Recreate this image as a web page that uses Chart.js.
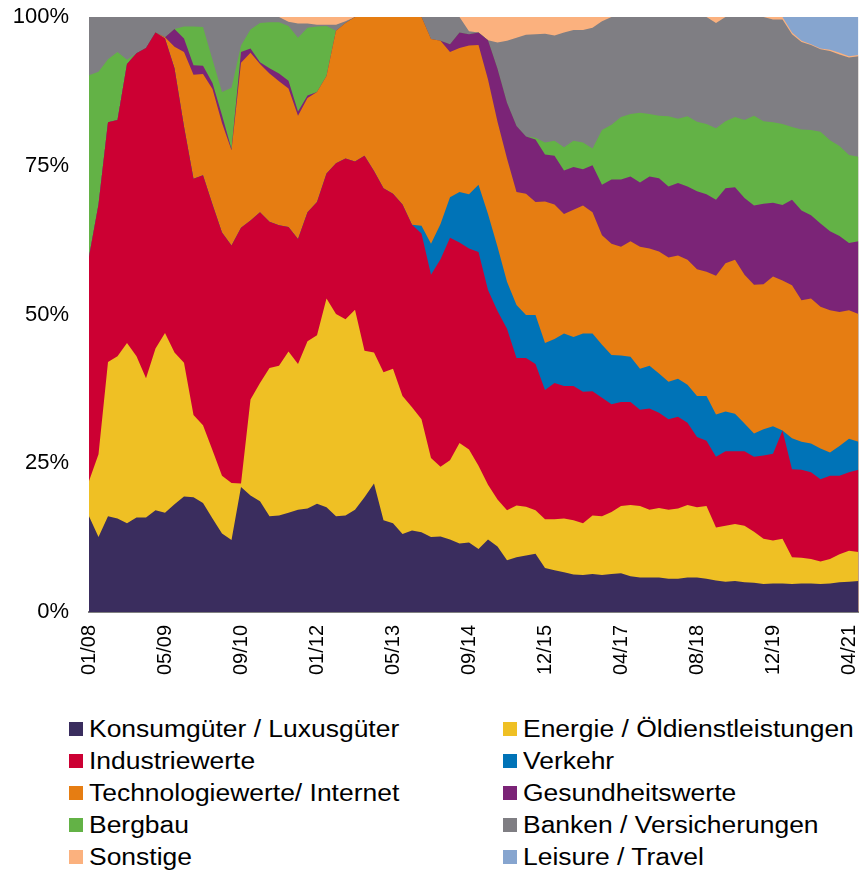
<!DOCTYPE html>
<html>
<head>
<meta charset="utf-8">
<script src="https://cdn.jsdelivr.net/npm/chart.js@4/dist/chart.umd.min.js"></script>
<style>
  body { margin: 0; background: #fff; width: 859px; height: 871px; overflow: hidden; position: relative; }
  #wrap { position: absolute; left: 0; top: 0; width: 859px; height: 690px; }
  .leg { position: absolute; height: 32px; line-height: 32px; font-family: "Liberation Sans", Arial, sans-serif; font-size: 23px; color: #000; white-space: nowrap; }
  .leg i { position: absolute; left: 0; top: 9px; width: 14px; height: 14px; }
  .leg span { position: absolute; left: 20px; top: 0; transform: scaleX(1.15); transform-origin: 0 0; }
</style>
</head>
<body>
<div id="wrap"><canvas id="chart"></canvas></div>
<div id="legend"></div>
<script>
  // axis labels, one every 8th point (points are two months apart)
  const tickLabels = ['01/08', '05/09', '09/10', '01/12', '05/13', '09/14', '12/15', '04/17', '08/18', '12/19', '04/21'];

  const seriesNames = [
    'Konsumgüter / Luxusgüter', 'Energie / Öldienstleistungen', 'Industriewerte', 'Verkehr',
    'Technologiewerte/ Internet', 'Gesundheitswerte', 'Bergbau', 'Banken / Versicherungen',
    'Sonstige', 'Leisure / Travel'
  ];
  const seriesColors = ['#3a2d5e', '#efc024', '#cc0033', '#0073b7', '#e67d12', '#7b2477', '#63b246', '#7f7e83', '#fbb17e', '#86a5cf'];

  // shares in %
  const konsum = [16.1, 12.6, 16.1, 15.7, 14.9, 15.9, 15.9, 17.1, 16.7, 18.1,
    19.4, 19.3, 18.3, 15.7, 13.2, 12.1, 21.0, 19.6, 18.6, 16.1,
    16.2, 16.7, 17.2, 17.4, 18.2, 17.6, 16.1, 16.2, 17.2, 19.3,
    21.6, 15.4, 14.9, 13.1, 13.7, 13.4, 12.6, 12.7, 12.2, 11.5,
    11.7, 10.6, 12.2, 11.0, 8.7, 9.2, 9.5, 9.8, 7.4, 7.0,
    6.7, 6.3, 6.2, 6.4, 6.2, 6.4, 6.5, 6.0, 5.8, 5.8,
    5.8, 5.6, 5.6, 5.8, 5.8, 5.6, 5.3, 5.1, 5.2, 5.0,
    4.9, 4.7, 4.8, 4.8, 4.7, 4.8, 4.8, 4.7, 4.8, 5.0,
    5.1, 5.2];
  const energie = [5.9, 13.9, 25.9, 27.3, 30.3, 27.1, 23.4, 27.2, 30.2, 25.5,
    22.5, 13.8, 13.1, 11.5, 9.7, 9.6, 0.6, 16.1, 19.9, 24.9,
    25.2, 27.1, 24.5, 28.1, 28.3, 35.1, 34.0, 33.0, 33.6, 24.6,
    22.0, 24.9, 26.0, 23.2, 20.7, 19.0, 13.3, 11.7, 13.3, 16.9,
    15.6, 14.0, 9.2, 7.9, 8.4, 8.7, 8.2, 7.3, 8.2, 8.6,
    9.0, 9.1, 8.7, 9.8, 9.9, 10.4, 11.3, 12.0, 12.0, 11.4,
    11.7, 11.6, 11.8, 12.2, 11.8, 12.2, 8.9, 9.4, 9.6, 9.5,
    8.6, 7.6, 7.2, 7.5, 4.5, 4.3, 4.1, 3.8, 4.1, 4.7,
    5.2, 4.9];
  const industrie = [37.7, 42.0, 40.3, 39.7, 46.9, 50.9, 55.5, 53.1, 49.5, 47.8,
    39.7, 39.7, 42.0, 41.3, 40.9, 39.9, 43.0, 30.1, 28.7, 24.6,
    23.6, 20.9, 21.0, 21.7, 22.4, 21.0, 25.3, 27.0, 24.9, 32.8,
    30.5, 30.9, 29.4, 32.2, 30.7, 31.2, 30.8, 34.9, 37.4, 33.7,
    33.8, 35.9, 32.7, 31.7, 30.5, 24.8, 25.0, 24.6, 21.7, 22.9,
    22.3, 22.6, 22.1, 20.9, 19.9, 18.1, 17.5, 17.3, 16.2, 17.0,
    16.0, 15.2, 15.4, 13.8, 11.8, 11.0, 11.9, 12.5, 12.2, 12.5,
    12.6, 14.0, 14.6, 18.2, 14.8, 14.8, 14.6, 13.8, 14.0, 13.2,
    13.2, 13.8];
  const verkehr = [0, 0, 0, 0, 0, 0, 0, 0, 0, 0,
    0, 0, 0, 0, 0, 0, 0, 0, 0, 0,
    0, 0, 0, 0, 0, 0, 0, 0, 0, 0,
    0, 0, 0, 0, 0, 1.3, 5.2, 5.9, 6.8, 8.5,
    9.1, 11.3, 12.8, 10.8, 7.9, 8.9, 7.2, 8.2, 7.9, 7.4,
    8.8, 8.2, 9.8, 9.7, 8.9, 8.3, 7.8, 7.6, 6.9, 7.2,
    6.6, 6.3, 6.4, 6.4, 6.9, 7.5, 7.1, 6.7, 6.3, 4.7,
    3.9, 4.4, 4.6, 0, 5.2, 4.7, 4.8, 5.2, 3.9, 5.0,
    5.6, 4.7];
  const technologie = [0, 0, 0, 0, 0, 0, 0, 0, 0.2, 3.6,
    12.5, 17.5, 17.0, 19.4, 18.4, 16.0, 27.7, 28.2, 24.9, 24.9,
    24.2, 23.3, 20.7, 19.2, 18.5, 16.4, 22.3, 22.8, 24.3, 23.3,
    25.9, 28.8, 29.7, 31.5, 34.9, 35.1, 34.4, 30.8, 24.4, 24.2,
    25.0, 23.5, 22.6, 21.0, 20.7, 19.0, 20.4, 19.0, 23.8, 22.6,
    20.1, 21.4, 21.5, 20.4, 18.4, 18.7, 18.3, 19.4, 20.5, 19.7,
    20.5, 20.9, 20.7, 21.0, 21.3, 20.9, 23.3, 24.9, 25.9, 25.0,
    25.0, 24.4, 25.2, 25.2, 25.7, 23.8, 24.4, 23.8, 23.9, 22.5,
    21.6, 21.5];
  const gesundheit = [0, 0, 0, 0, 0, 0, 0, 0, 0, 3.0,
    2.3, 1.6, 1.4, 1.0, 1.3, 0.2, 1.8, 0.7, 0.3, 0.9,
    1.3, 1.3, 0.7, 0.4, 0, 0, 0, 0, 0, 0,
    0, 0, 0, 0, 0, 0, 0, 0, 1.3, 2.6,
    1.9, 2.1, 6.6, 8.9, 9.4, 11.1, 9.6, 10.5, 7.9, 8.2,
    7.3, 7.2, 6.1, 7.9, 8.5, 10.8, 11.3, 10.9, 10.8, 12.1,
    12.3, 11.9, 12.2, 12.3, 13.1, 13.0, 12.8, 12.6, 12.2, 12.9,
    13.3, 13.5, 12.4, 12.7, 14.4, 15.1, 14.0, 14.0, 13.3, 12.8,
    11.3, 12.2];
  const bergbau = [30.5, 22.3, 10.6, 11.4, 0.7, 0, 0, 0, 0, 0,
    2.0, 6.5, 6.5, 3.9, 3.9, 10.3, 1.1, 3.2, 6.6, 7.7,
    8.6, 9.2, 12.4, 11.4, 11.0, 8.4, 0, 0, 0, 0,
    0, 0, 0, 0, 0, 0, 0, 0, 0, 0,
    0, 0, 0, 0, 0, 0, 0, 0.3, 2.0, 2.5,
    3.9, 4.4, 4.5, 2.8, 9.2, 9.2, 10.5, 10.5, 11.7, 10.5,
    10.5, 11.8, 10.8, 11.8, 11.7, 11.8, 12.0, 11.3, 11.8, 13.1,
    15.1, 13.9, 13.5, 13.6, 12.2, 13.6, 14.3, 15.4, 15.3, 15.1,
    14.8, 14.2];
  const banken = [9.8, 9.2, 7.1, 5.9, 7.2, 6.1, 5.2, 2.6, 3.4, 2.0,
    1.6, 1.6, 1.7, 7.2, 12.6, 11.9, 4.8, 2.1, 1.0, 0.9,
    0.9, 0.7, 2.4, 0.7, 0.3, 0.2, 1.0, 0.3, 0, 0,
    0, 0, 0, 0, 0, 0, 3.7, 4.0, 4.6, 2.6,
    0.5, 0, 0, 4.4, 10.4, 14.8, 17.1, 17.4, 18.3, 17.7,
    19.3, 18.6, 18.9, 20.3, 18.3, 18.1, 16.8, 16.3, 16.1, 16.3,
    16.6, 16.7, 17.1, 16.7, 17.6, 18.0, 17.7, 17.5, 16.8, 17.3,
    16.6, 17.5, 17.3, 17.6, 15.6, 14.7, 14.3, 13.9, 15.0, 15.4,
    16.4, 16.9];
  const sonstige = [0, 0, 0, 0, 0, 0, 0, 0, 0, 0,
    0, 0, 0, 0, 0, 0, 0, 0, 0, 0,
    0, 0.8, 1.1, 1.1, 1.3, 1.3, 1.3, 0.7, 0, 0,
    0, 0, 0, 0, 0, 0, 0, 0, 0, 0,
    2.4, 2.6, 3.9, 4.3, 4.0, 3.5, 3.0, 2.9, 2.8, 3.1,
    2.6, 2.2, 2.2, 1.8, 0.7, 0, 0, 0, 0, 0,
    0, 0, 0, 0, 0, 0, 1.0, 0, 0, 0,
    0, 0, 0.4, 0.4, 0.3, 0.2, 0.1, 0.1, 0.2, 0.3,
    0.2, 0.2];
  const leisure = [0, 0, 0, 0, 0, 0, 0, 0, 0, 0,
    0, 0, 0, 0, 0, 0, 0, 0, 0, 0,
    0, 0, 0, 0, 0, 0, 0, 0, 0, 0,
    0, 0, 0, 0, 0, 0, 0, 0, 0, 0,
    0, 0, 0, 0, 0, 0, 0, 0, 0, 0,
    0, 0, 0, 0, 0, 0, 0, 0, 0, 0,
    0, 0, 0, 0, 0, 0, 0, 0, 0, 0,
    0, 0, 0, 0, 2.6, 4.0, 4.6, 5.3, 5.5, 6.0,
    6.6, 6.4];

  const series = [konsum, energie, industrie, verkehr, technologie, gesundheit, bergbau, banken, sonstige, leisure];

  const labels = konsum.map((v, i) => (i % 8 === 0 && tickLabels[i / 8]) ? tickLabels[i / 8] : '');
  const font = '"Liberation Sans", Arial, sans-serif';

  new Chart(document.getElementById('chart'), {
    type: 'line',
    data: {
      labels: labels,
      datasets: series.map((data, k) => ({
        label: seriesNames[k],
        data: data,
        backgroundColor: seriesColors[k],
        borderColor: 'transparent',
        borderWidth: 0,
        pointRadius: 0,
        tension: 0,
        fill: 'origin'
      }))
    },
    options: {
      responsive: true,
      maintainAspectRatio: false,
      animation: false,
      layout: { padding: { top: 17, right: 0.5, bottom: 0, left: 0 } },
      plugins: { legend: { display: false }, tooltip: { enabled: false } },
      scales: {
        x: {
          grid: { display: false, drawTicks: false },
          border: { display: true, color: '#808080', width: 2 },
          ticks: { autoSkip: false, minRotation: 90, maxRotation: 90, padding: 13, color: '#000', font: { family: font, size: 20 } },
          afterFit: s => { s.height = 78; s.paddingLeft = 0; s.paddingRight = 0; }
        },
        y: {
          stacked: true,
          min: 0,
          max: 100,
          grid: { display: false, drawTicks: false },
          border: { display: false },
          ticks: { stepSize: 25, padding: 20, color: '#000', font: { family: font, size: 22 }, callback: v => v + '%' },
          afterFit: s => { s.width = 89; s.paddingTop = 0; s.paddingBottom = 0; }
        }
      }
    }
  });

  // legend: two columns, row-major order like the original
  const legend = document.getElementById('legend');
  seriesNames.forEach((name, k) => {
    const row = document.createElement('div');
    row.className = 'leg';
    row.style.left = (k % 2 === 0 ? 69 : 503) + 'px';
    row.style.top = (713 + Math.floor(k / 2) * 32) + 'px';
    row.innerHTML = '<i style="background:' + seriesColors[k] + '"></i><span>' + name + '</span>';
    legend.appendChild(row);
  });
</script>
</body>
</html>
